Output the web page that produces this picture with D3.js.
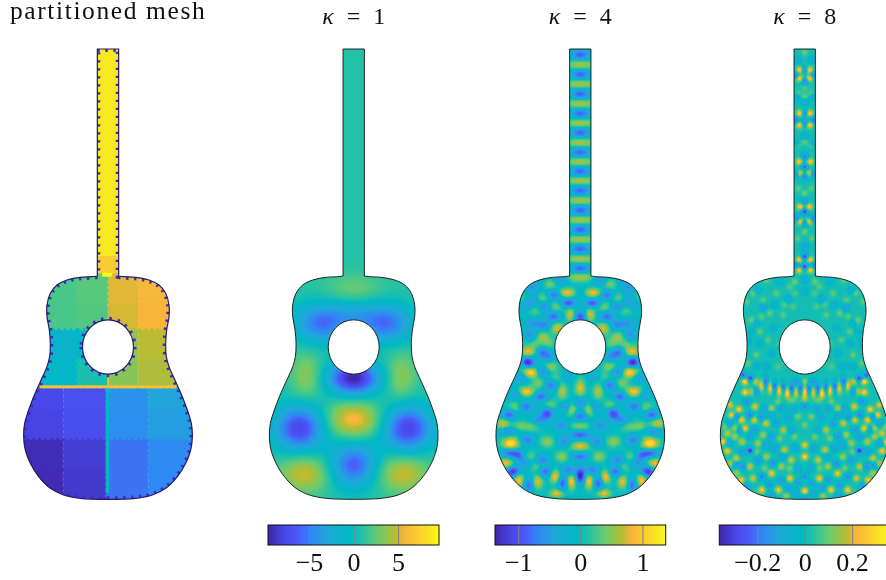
<!DOCTYPE html>
<html>
<head>
<meta charset="utf-8">
<script src="https://cdn.jsdelivr.net/npm/d3@7"></script>
<style>
  html, body { margin: 0; padding: 0; background: #fff; overflow: hidden; }
  canvas, svg { position: absolute; left: 0; top: 0; }
  text { font-family: "Liberation Serif", serif; fill: #111; }
</style>
</head>
<body>
<canvas id="field" width="886" height="580"></canvas>
<svg id="chart" width="886" height="580"></svg>
<script>
// guitar shape, in units where the shoulder line is y=0 (3 units per screen pixel)
var neckTop = -633, neckHalf = 32;
var profile = [[32,48],[48,50],[83,52],[123,60],[153,75],[173,100],[183,135],[183,170],[176,210],[173,250],[175,290],[183,320],[203,365],[223,410],[238,450],[250,490],[253,530],[248,570],[233,610],[208,650],[173,685],[133,705],[83,715],[0,718]];
var hole = [0, 261, 76.5, 81.5];

// colormap
var cmapPos = [0, .1, .18, .25, .35, .48, .55, .65, .75, .8, .92, 1];
var cmapCol = ["#3e26a8", "#4848e8", "#4a5cf8", "#2f88f5", "#1fa8d8", "#00b8c4", "#25c2a5", "#6ecb6a", "#bebb30", "#f8b53a", "#fadc28", "#f9fb15"];

var panelCenters = [108, 353.7, 580.3, 804.7];
var titles = ["partitioned mesh", "1", "4", "8"];

// colorbars
var barDomains = [[-9.6, 9.6], [-1.375, 1.375], [-.36, .36]];
var barTicks = [[-5, 0, 5], [-1, 0, 1], [-.2, 0, .2]];
var barRanges = [[268, 439], [495, 665.7], [719.3, 890]];

// partition colors (0..1 on the colormap)
var upperCols = [100, 230, 325, 415, 545];
var upperRows = [40, 135, 210, 300, 380];
var upperVals = [[.6, .62, .78, .81], [.6, .61, .77, .8], [.44, .47, .7, .745], [.47, .53, .68, .73]];
var lowerCols = [60, 190, 320, 445, 590];
var lowerRows = [380, 450, 540, 630, 725];
var lowerVals = [[.1, .13, .28, .34], [.09, .12, .27, .32], [.02, .07, .22, .26], [.015, .06, .22, .25]];
var seams = [[-32, -12, 32, 38, .87], [-205, 376, 205, 385, .83], [-2, 345, 3, 380, .81], [-7, 385, 3, 700, .46], [-18, 38, 12, 50, 1]];

// field spots: [dx from centre line, y, value, sx, sy], right half only, mirrored when drawn
var k1Base = .9;
var k1Spots = [[0,355,-10.5,52,34],[97,190,-6.5,55,40],[0,165,-2.5,50,30],[0,85,1.8,60,30],[142,350,2.8,32,50],[0,480,5.2,58,38],[162,505,-8.6,52,48],[147,640,4.2,55,40],[0,615,-7.2,50,46]];

var k4NeckBlue = [-615,-557,-498,-439,-382,-323,-266,-208,-149,-91,-33,25];
var k4NeckYellow = [-586,-528,-469,-411,-352,-295,-238,-179,-120,-61,-3,51];
var k4Spots = [[0,100,-.3],[0,170,-.95],[0,385,.85,10,18],[0,425,-.6],[0,470,-.75],[0,497,.55,18,9],[0,525,-.85,22,9],[0,558,.85,20,9],[0,590,-.75,22,9],[0,648,-1.35,10,16],
  [39,98,.95,18,9],[36,130,-.95,16,9],[29,165,.9,10,13],[89,72,.5],[79,105,-.8],[114,115,.5],[144,85,-.5],[109,140,-.7],[74,140,.5],[134,150,.4],[79,170,-.8],[69,205,.8,13,13],[114,230,.6],[144,190,-.5],[110,195,-.65],
  [154,275,.9,18,10],[119,275,-.8],[157,307,-1.3,13,11],[149,338,1.25,18,11],[114,335,-.8],[89,320,.6],[164,395,1.1,18,10],[124,370,.5],[119,410,-.8],[194,440,.5],[164,440,-.8],[214,465,-.85],[232,490,.8],[179,500,.5],
  [209,550,1.3,17,11],[209,515,-.85,22,9],[209,580,-.85,22,9],[224,610,.9],[202,635,-1.2],[184,660,1.0,10,14],[127,665,.85,10,15],[156,675,-.8,10,14],[76,650,1.0,10,14],[54,670,-.9,10,14],[106,635,-.85],[129,620,.45],[26,665,1.0,9,16],[71,700,.9,14,8],
  [54,590,.6],[34,630,-.7],[99,545,.6],[99,460,-1.05,13,13],[59,495,-.6],[26,448,.8,10,14],[54,395,.7,10,17],[89,375,-.75],[44,440,-.6],[89,435,.5],[159,540,-.7],[144,500,.4],[154,590,.5],[114,600,-.7],
  [150,225,-.6],[135,255,.4],[95,250,.4],[95,290,-.6],[160,135,-.4],[140,120,-.4],[125,480,-.6],[190,400,-.6],[70,350,.35],[60,60,-.6],[130,60,-.4],[180,115,.3],[185,245,.3],[175,350,-.6],[45,350,-.35],[200,520,.4],[180,590,-.6],[50,545,-.6],[165,610,-.5]];

var k8Neck = [[0,-623,.1],[15,-570,.28],[15,-545,.28],[27,-555,-.22],[0,-570,-.22],[0,-537,-.22],[0,-490,.1],[0,-475,-.14],[0,-515,.07],[15,-440,.28],[15,-405,.28],[0,-440,-.22],[0,-410,-.22],[26,-420,-.22],[0,-355,.1],[0,-370,-.14],
  [17,-295,.26],[0,-310,-.22],[15,-260,.26],[0,-280,-.25],[25,-258,-.25],[0,-250,-.22],[0,-200,.1],[0,-175,-.16],[14,-160,.26],[13,-115,.26],[0,-145,-.3],[25,-125,-.22],[0,-110,-.22],[0,-85,.1],[0,-40,-.17],[17,0,.26],[17,30,.26],[0,-10,-.3],[0,20,-.3],[25,15,-.22],[20,-500,.08],[20,-345,.08],[22,-600,-.12],[24,-490,-.1],[24,-350,-.1],[20,-215,.08],[22,-65,.08]];
var k8Upper = [[0,95,-.12],[50,118,-.14],[85,100,.09],[124,143,-.16],[155,100,.08],[105,160,.09],[160,180,.1],[135,215,.09],[170,245,-.1],[145,285,.09],[100,280,-.09],[75,250,.07],[30,65,.1],[0,60,-.14],[75,65,-.1],[115,60,.09],[175,125,.08],[65,165,.08],[95,205,-.1],[115,320,-.12],[60,305,.07],[170,310,.09],[35,140,.07],[45,80,.07],
  [140,90,-.1],[125,120,.08],[130,170,.08],[145,190,-.09],[110,240,.08],[135,250,-.09],[160,215,-.09],[80,320,.07],[145,320,-.09],[30,100,.07],[90,135,-.1],[60,135,.07]];
var k8Band = [[0,395,.27,5.5,11],[13,385,-.25,5,11],[26,398,.22,5.5,11],[39,385,-.26,5,11],[52,400,.3,5.5,11],[64,380,-.25,5,11],[76,392,.27,5.5,11],[90,378,-.25,5,11],[104,385,.24,5.5,11],[117,365,-.25,5,11],[130,378,.24,5.5,11],[0,365,.13],[26,365,-.18],[145,395,-.18],[163,355,-.3],[179,365,.3],[185,345,-.26],[179,397,.27],[160,395,.16],[147,365,.18],[0,420,.08],[40,420,.1],[80,425,.1]];
var k8Lower = [[0,440,-.22],[0,412,.1],[35,448,-.16],[70,445,-.18],[100,445,.16],[149,440,.22],[173,425,-.2],[197,448,.26],[224,435,.22],[219,465,.26],[205,470,-.2],[189,480,.25],[165,465,-.22],[131,470,-.2],[151,480,.22],[116,490,.2],[85,490,-.18],[64,510,.18],[179,505,.25],[210,505,.16],[150,510,-.18],[125,525,.16],[100,530,-.2],[40,510,-.14],[0,495,.1],[0,555,.24],[0,590,.28],[28,565,-.16],[61,570,.2],[40,600,.2],[20,625,-.16],[90,565,-.18],[164,572,-.34],[140,550,.16],[188,545,.18],[210,530,.16],[232,520,.2],[246,545,.27],[232,573,.25],[205,595,.2],[185,620,-.2],[225,610,.16],[115,590,.16],[140,600,-.2],[165,620,.2],[95,610,-.2],[70,620,.16],[44,655,.25],[0,650,-.2],[20,670,-.18],[70,660,-.2],[99,640,.25],[129,650,-.22],[155,655,.2],[190,660,.25],[175,680,-.2],[129,690,.26],[79,690,.25],[105,675,-.2],[50,685,-.18],[0,693,.28],[25,700,-.15],[0,712,-.18],[55,708,.14],[100,705,-.16],[150,705,.13],[205,640,.16],
  [20,470,.1],[50,475,-.15],[30,530,.1],[75,535,.1],[115,555,-.16],[165,530,-.16],[190,575,-.18],[225,550,-.16],[145,575,.1],[65,590,-.15],[120,625,.1],[45,625,.1],[205,615,-.16],[225,490,-.16],[240,500,.1],[195,510,-.15],[100,465,-.14],[120,445,-.16]];

var margin = {bar: 525, barH: 20};
var svg = d3.select("#chart");
var ctx = document.getElementById("field").getContext("2d");

var lineGen = d3.line().curve(d3.curveCatmullRom.alpha(.5));

function guitarPath(x, y) {
  var right = profile.map(function(p) { return [x(p[0]), y(p[1])]; });
  var left = profile.slice(0, -1).reverse().map(function(p) { return [x(-p[0]), y(p[1])]; });
  var d = "M" + x(-neckHalf) + "," + y(neckTop) + "L" + x(neckHalf) + "," + y(neckTop);
  d += lineGen(right.concat(left)).replace(/^M/, "L") + "Z";
  return d;
}
function holePath(x, y) {
  var cx = x(hole[0]), cy = y(hole[1]), rx = x(hole[2]) - cx, ry = y(hole[1] + hole[3]) - cy;
  return "M" + (cx - rx) + "," + cy + "A" + rx + "," + ry + " 0 1 0 " + (cx + rx) + "," + cy + "A" + rx + "," + ry + " 0 1 0 " + (cx - rx) + "," + cy + "Z";
}
function panelScales(cx) {
  return {
    x: d3.scaleLinear().domain([-255, 255]).range([cx - 85, cx + 85]),
    y: d3.scaleLinear().domain([neckTop, 717]).range([49, 499])
  };
}
var cmap = d3.scaleLinear().domain(cmapPos).range(cmapCol);
var lut = d3.range(512).map(function(i) { var c = d3.rgb(cmap(i / 511)); return [c.r, c.g, c.b]; });

// value of the field in each pixel, mapped through the colormap, clipped to the guitar
function drawField(cx, dom, base, spots, sx0, sy0) {
  var s = panelScales(cx), d = guitarPath(s.x, s.y) + holePath(s.x, s.y);
  var norm = d3.scaleLinear().domain(dom).range([0, 511]).clamp(true);
  var all = [];
  spots.forEach(function(p) {
    var e = { x: s.x(p[0]), y: s.y(p[1]), v: p[2], sx: (p[3] || sx0) / 3, sy: (p[4] || sy0) / 3 };
    all.push(e);
    if (p[0] > 0) all.push({ x: s.x(-p[0]), y: e.y, v: e.v, sx: e.sx, sy: e.sy });
  });
  var w = 180, h = 456, x0 = Math.round(cx - 90), y0 = 46;
  var off = document.createElement("canvas");
  off.width = w; off.height = h;
  var oc = off.getContext("2d"), img = oc.createImageData(w, h);
  for (var j = 0; j < h; j++) {
    for (var i = 0; i < w; i++) {
      var v = base, px = x0 + i + .5, py = y0 + j + .5;
      for (var k = 0; k < all.length; k++) {
        var a = (px - all[k].x) / all[k].sx, b = (py - all[k].y) / all[k].sy, r = a * a + b * b;
        if (r < 16) v += all[k].v * Math.exp(-r / 2);
      }
      var c = lut[Math.round(norm(v))], o = (j * w + i) * 4;
      img.data[o] = c[0]; img.data[o + 1] = c[1]; img.data[o + 2] = c[2]; img.data[o + 3] = 255;
    }
  }
  oc.putImageData(img, 0, 0);
  ctx.save();
  ctx.clip(new Path2D(d), "evenodd");
  ctx.drawImage(off, x0, y0);
  ctx.restore();
  svg.append("path").attr("d", d).attr("fill", "none").attr("stroke", "#111").attr("stroke-width", .9);
}

function drawMesh(cx) {
  var s = panelScales(cx), x = s.x, y = s.y, d = guitarPath(x, y) + holePath(x, y);
  var defs = svg.append("defs");
  defs.append("clipPath").attr("id", "guitarClip").append("path").attr("d", d).attr("clip-rule", "evenodd");
  var g = svg.append("g").attr("clip-path", "url(#guitarClip)");
  var cells = [];
  lowerVals.forEach(function(row, r) {
    row.forEach(function(v, c) {
      cells.push({ x0: lowerCols[c] - 323, x1: lowerCols[c + 1] - 323, y0: lowerRows[r], y1: lowerRows[r + 1], v: v });
    });
  });
  upperVals.forEach(function(row, r) {
    row.forEach(function(v, c) {
      cells.push({ x0: upperCols[c] - 323, x1: upperCols[c + 1] - 323, y0: upperRows[r], y1: upperRows[r + 1], v: v });
    });
  });
  g.append("rect").attr("x", x(-neckHalf)).attr("y", y(neckTop)).attr("width", x(neckHalf) - x(-neckHalf)).attr("height", y(48) - y(neckTop)).attr("fill", "#f8ea1c");
  g.selectAll("rect.part").data(cells).enter().append("rect").attr("class", "part")
    .attr("x", function(c) { return x(c.x0); }).attr("y", function(c) { return y(c.y0); })
    .attr("width", function(c) { return x(c.x1) - x(c.x0); }).attr("height", function(c) { return y(c.y1) - y(c.y0); })
    .attr("fill", function(c) { return cmap(c.v); })
    .attr("stroke", function(c) { return cmap(c.v); })
    .attr("stroke-width", 3.5).attr("stroke-dasharray", "2.5 3.5");
  g.selectAll("rect.seam").data(seams).enter().append("rect").attr("class", "seam")
    .attr("x", function(c) { return x(c[0]); }).attr("y", function(c) { return y(c[1]); })
    .attr("width", function(c) { return x(c[2]) - x(c[0]); }).attr("height", function(c) { return y(c[3]) - y(c[1]); })
    .attr("fill", function(c) { return cmap(c[4]); });
  // dark boundary elements along the outline
  g.append("path").attr("d", d).attr("fill", "none").attr("stroke", cmap(.02)).attr("stroke-width", 6).attr("stroke-dasharray", "2.4 5.6");
  svg.append("path").attr("d", d).attr("fill", "none").attr("stroke", "#241a70").attr("stroke-width", 1.2);
}

function drawBar(i) {
  var dom = barDomains[i], range = barRanges[i];
  var scale = d3.scaleLinear().domain(dom).range(range);
  var grad = svg.append("defs").append("linearGradient").attr("id", "cbar" + i);
  grad.selectAll("stop").data(cmapPos).enter().append("stop")
    .attr("offset", function(d) { return d; })
    .attr("stop-color", function(d, k) { return cmapCol[k]; });
  svg.append("rect").attr("x", range[0]).attr("y", margin.bar).attr("width", range[1] - range[0]).attr("height", margin.barH).attr("fill", "url(#cbar" + i + ")");
  var axis = d3.axisBottom(scale).tickValues(barTicks[i]).tickSizeInner(-margin.barH).tickSizeOuter(0).tickPadding(8)
    .tickFormat(function(d) { return String(d).replace("-", "\u2212"); });
  var g = svg.append("g").attr("transform", "translate(0," + (margin.bar + margin.barH) + ")").call(axis);
  g.select(".domain").remove();
  g.selectAll("line").attr("stroke", "#808080").attr("stroke-width", 1);
  g.selectAll("text").attr("font-size", 26).attr("fill", "#111").attr("font-family", "Liberation Serif");
  svg.append("rect").attr("x", range[0]).attr("y", margin.bar).attr("width", range[1] - range[0]).attr("height", margin.barH).attr("fill", "none").attr("stroke", "#111").attr("stroke-width", 1);
}

drawMesh(panelCenters[0]);
drawField(panelCenters[1], barDomains[0], k1Base, k1Spots, 30, 30);

var k4All = k4Spots.map(function(p) { return p; });
k4NeckBlue.forEach(function(y) { k4All.push([0, y, -.85, 20, 11]); });
k4NeckYellow.forEach(function(y) { k4All.push([0, y, .7, 30, 10]); });
drawField(panelCenters[2], barDomains[1], -.03, k4All, 15, 11);
drawField(panelCenters[3], barDomains[2], .012, k8Neck.concat(k8Upper, k8Band, k8Lower), 6.8, 6.8);

[0, 1, 2].forEach(drawBar);

svg.append("text").attr("x", 10).attr("y", 18.5).attr("font-size", 25.5).attr("letter-spacing", 1.6).text(titles[0]);
[1, 2, 3].forEach(function(i) {
  var t = svg.append("text").attr("x", panelCenters[i]).attr("y", 24).attr("text-anchor", "middle").attr("font-size", 24).attr("word-spacing", 7);
  t.append("tspan").attr("font-style", "italic").text("\u03ba");
  t.append("tspan").text(" = " + titles[i]);
});
</script>
</body>
</html>
